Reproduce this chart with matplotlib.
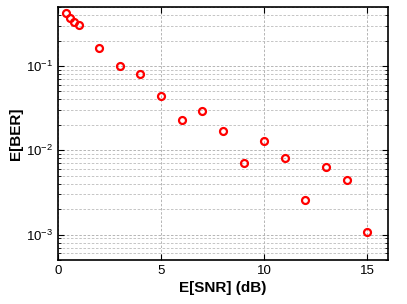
import matplotlib
matplotlib.use("Agg")
import matplotlib.pyplot as plt
from matplotlib.ticker import LogLocator, NullFormatter

# data
snr = [0.4, 0.6, 0.8, 1, 2, 3, 4, 5, 6, 7, 8, 9, 10, 11, 12, 13, 14, 15]
ber = [0.42, 0.373, 0.334, 0.303, 0.165, 0.099, 0.080, 0.0434, 0.0231, 0.0288,
       0.0170, 0.00698, 0.0127, 0.00815, 0.00258, 0.00632, 0.00448, 0.00108]

plt.rcParams['font.family'] = ['Liberation Sans', 'DejaVu Sans']

fig = plt.figure(figsize=(4.07, 3.04), dpi=100)
ax = fig.add_axes([0.1425, 0.145, 0.8105, 0.832])

ax.semilogy(snr, ber, 'o', color='red', markerfacecolor='none',
            markersize=5, markeredgewidth=1.6)

ax.set_xlim(0, 16)
ax.set_ylim(5e-4, 0.5)
ax.set_xticks([0, 5, 10, 15])
ax.yaxis.set_major_locator(LogLocator(base=10, numticks=10))
ax.yaxis.set_minor_locator(LogLocator(base=10, subs=range(2, 10), numticks=20))
ax.yaxis.set_minor_formatter(NullFormatter())

ax.grid(True, which='major', axis='both', linestyle=(0, (3, 2)), color='#aaaaaa', linewidth=0.6)
ax.grid(True, which='minor', axis='y', linestyle=(0, (3, 2)), color='#bbbbbb', linewidth=0.6)

ax.tick_params(which='both', direction='in', top=True, right=True, labelsize=9.5)
ax.tick_params(which='major', length=4)
ax.tick_params(which='minor', length=2)
for s in ax.spines.values():
    s.set_linewidth(1.2)

ax.set_xlabel('E[SNR] (dB)', fontsize=11, fontweight='bold', labelpad=3)
ax.set_ylabel('E[BER]', fontsize=11, fontweight='bold', labelpad=2)

fig.savefig('out.png', dpi=100)
